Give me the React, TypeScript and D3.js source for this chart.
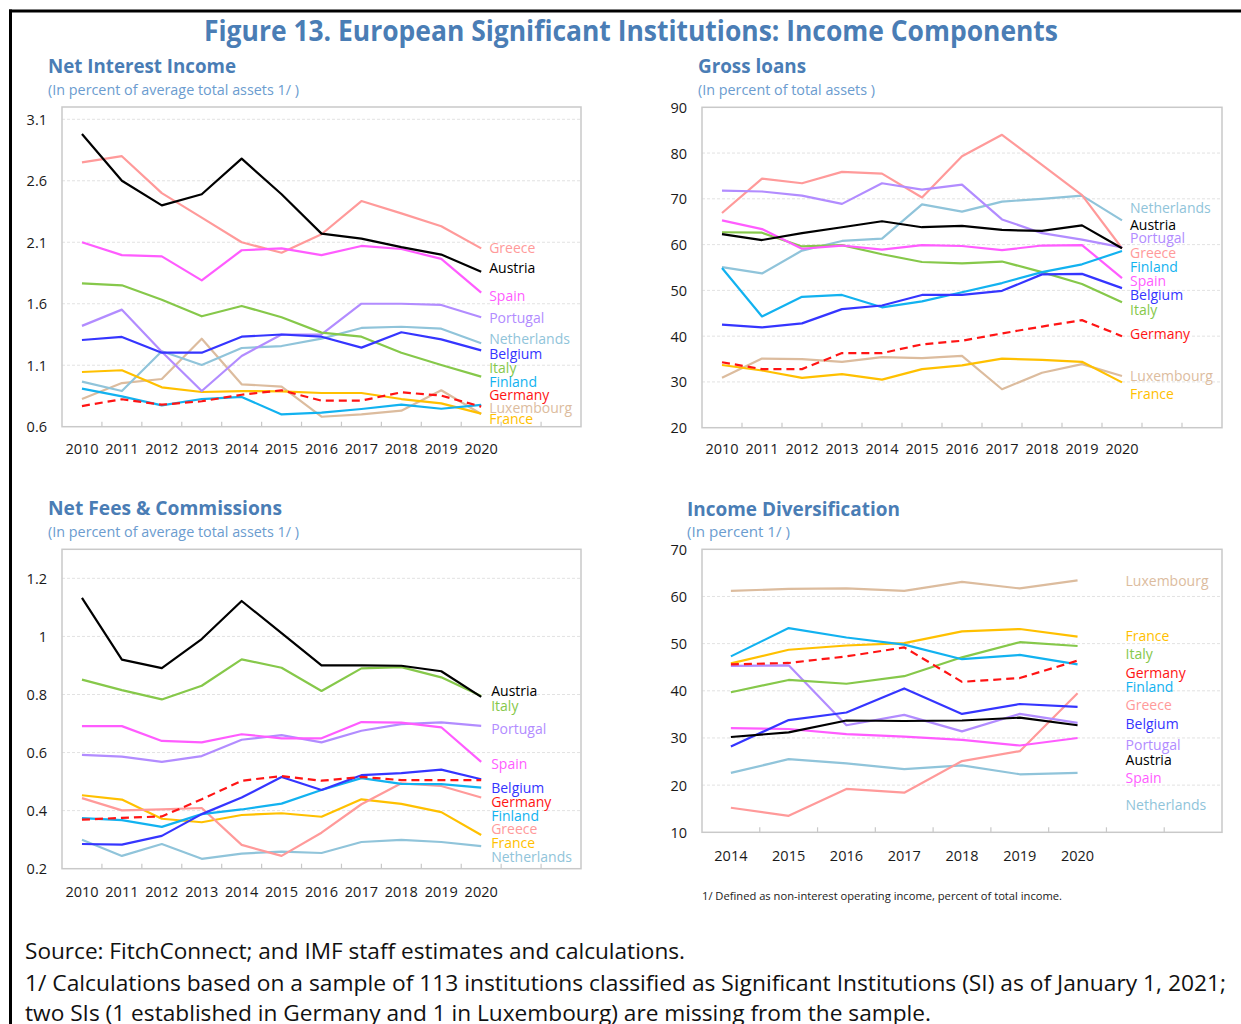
import React from "react";
import * as d3 from "d3";

// ---------------- DATA ----------------
const yearsLong = ["2010", "2011", "2012", "2013", "2014", "2015", "2016", "2017", "2018", "2019", "2020"];
const yearsShort = ["2014", "2015", "2016", "2017", "2018", "2019", "2020"];

const drawOrder = ["Luxembourg", "Netherlands", "France", "Greece", "Portugal", "Italy", "Spain", "Finland", "Belgium", "Austria", "Germany"];

// Net Interest Income (percent of average total assets)
const netInterestIncome: Record<string, number[]> = {
  Austria: [2.98, 2.6, 2.4, 2.49, 2.78, 2.49, 2.17, 2.13, 2.06, 2.0, 1.86],
  Greece: [2.75, 2.8, 2.5, 2.3, 2.1, 2.015, 2.165, 2.435, 2.335, 2.23, 2.05],
  Spain: [2.1, 1.995, 1.985, 1.79, 2.035, 2.05, 1.995, 2.07, 2.045, 1.965, 1.69],
  Italy: [1.765, 1.75, 1.633, 1.498, 1.582, 1.49, 1.365, 1.332, 1.202, 1.102, 1.007],
  Portugal: [1.42, 1.552, 1.21, 0.89, 1.175, 1.35, 1.35, 1.6, 1.6, 1.59, 1.49],
  Netherlands: [0.966, 0.89, 1.213, 1.102, 1.24, 1.256, 1.316, 1.403, 1.413, 1.397, 1.278],
  Belgium: [1.305, 1.33, 1.202, 1.202, 1.332, 1.35, 1.332, 1.243, 1.368, 1.31, 1.221],
  France: [1.045, 1.059, 0.92, 0.882, 0.89, 0.887, 0.874, 0.874, 0.825, 0.79, 0.706],
  Luxembourg: [0.825, 0.955, 0.988, 1.316, 0.945, 0.926, 0.681, 0.7, 0.73, 0.896, 0.703],
  Finland: [0.909, 0.847, 0.774, 0.825, 0.842, 0.7, 0.714, 0.744, 0.779, 0.746, 0.777],
  Germany: [0.768, 0.823, 0.779, 0.807, 0.86, 0.896, 0.812, 0.812, 0.88, 0.853, 0.763],
};

// Gross loans (percent of total assets)
const grossLoans: Record<string, number[]> = {
  Greece: [66.9, 74.4, 73.4, 75.9, 75.5, 70.3, 79.3, 84.0, 77.4, 70.8, 59.2],
  Portugal: [71.8, 71.6, 70.7, 68.9, 73.4, 72.0, 73.1, 65.5, 62.5, 61.1, 59.4],
  Netherlands: [55.1, 53.7, 58.7, 60.8, 61.3, 68.8, 67.2, 69.4, 70.0, 70.7, 65.3],
  Austria: [62.3, 61.0, 62.5, 63.8, 65.1, 63.8, 64.1, 63.2, 63.0, 64.2, 59.2],
  Spain: [65.3, 63.4, 59.1, 59.8, 58.9, 59.9, 59.7, 58.8, 59.8, 59.9, 52.7],
  Italy: [62.7, 62.6, 59.6, 59.9, 57.9, 56.2, 55.9, 56.3, 54.0, 51.4, 47.4],
  Finland: [54.9, 44.3, 48.6, 49.0, 46.3, 47.6, 49.6, 51.6, 54.0, 55.7, 58.6],
  Belgium: [42.5, 41.9, 42.8, 45.9, 46.7, 49.0, 49.0, 49.9, 53.5, 53.6, 50.5],
  Germany: [34.3, 32.8, 32.8, 36.3, 36.3, 38.2, 39.0, 40.6, 42.1, 43.5, 40.0],
  Luxembourg: [30.9, 35.1, 35.0, 34.4, 35.4, 35.2, 35.7, 28.4, 32.0, 33.9, 31.3],
  France: [33.7, 32.5, 30.9, 31.7, 30.5, 32.8, 33.6, 35.1, 34.8, 34.4, 29.9],
};

// Net Fees & Commissions (percent of average total assets)
const netFees: Record<string, number[]> = {
  Austria: [1.133, 0.92, 0.891, 0.991, 1.122, 1.011, 0.9, 0.9, 0.899, 0.88, 0.792],
  Italy: [0.851, 0.815, 0.783, 0.83, 0.921, 0.892, 0.812, 0.89, 0.894, 0.859, 0.795],
  Spain: [0.691, 0.691, 0.64, 0.635, 0.663, 0.649, 0.649, 0.705, 0.703, 0.687, 0.568],
  Portugal: [0.592, 0.586, 0.568, 0.588, 0.644, 0.66, 0.635, 0.675, 0.698, 0.704, 0.692],
  Belgium: [0.285, 0.283, 0.313, 0.388, 0.445, 0.516, 0.471, 0.522, 0.529, 0.541, 0.508],
  Germany: [0.369, 0.375, 0.38, 0.439, 0.503, 0.519, 0.503, 0.516, 0.505, 0.505, 0.505],
  Finland: [0.374, 0.367, 0.344, 0.388, 0.404, 0.424, 0.471, 0.512, 0.492, 0.491, 0.479],
  Greece: [0.443, 0.401, 0.404, 0.409, 0.282, 0.244, 0.324, 0.422, 0.494, 0.485, 0.445],
  France: [0.453, 0.438, 0.372, 0.36, 0.385, 0.391, 0.379, 0.439, 0.423, 0.395, 0.316],
  Netherlands: [0.3, 0.244, 0.285, 0.234, 0.252, 0.259, 0.254, 0.292, 0.299, 0.292, 0.278],
  Luxembourg: [],
};

// Income Diversification (percent)
const incomeDiversification: Record<string, number[]> = {
  Luxembourg: [61.2, 61.6, 61.7, 61.2, 63.1, 61.7, 63.4],
  France: [45.8, 48.7, 49.6, 50.1, 52.6, 53.1, 51.5],
  Finland: [47.3, 53.3, 51.3, 49.8, 46.7, 47.6, 45.6],
  Italy: [39.7, 42.3, 41.5, 43.1, 47.1, 50.3, 49.5],
  Germany: [45.6, 45.9, 47.3, 49.2, 41.9, 42.7, 46.4],
  Portugal: [45.3, 45.4, 32.7, 34.9, 31.4, 35.1, 33.2],
  Belgium: [28.2, 33.8, 35.4, 40.5, 35.1, 37.2, 36.6],
  Austria: [30.2, 31.2, 33.7, 33.6, 33.7, 34.3, 32.7],
  Spain: [32.1, 31.9, 30.8, 30.3, 29.6, 28.4, 30.0],
  Netherlands: [22.6, 25.5, 24.6, 23.4, 24.2, 22.3, 22.6],
  Greece: [15.2, 13.5, 19.2, 18.4, 25.1, 27.2, 39.5],
};

const niiTicks = [0.6, 1.1, 1.6, 2.1, 2.6, 3.1];
const loansTicks = [20, 30, 40, 50, 60, 70, 80, 90];
const feesTicks = [0.2, 0.4, 0.6, 0.8, 1, 1.2];
const divTicks = [10, 20, 30, 40, 50, 60, 70];

// label anchor values (data units) for the end-of-line country labels
const niiLabels: [string, number][] = [
  ["Greece", 2.061], ["Austria", 1.891], ["Spain", 1.663], ["Portugal", 1.492], ["Netherlands", 1.321],
  ["Belgium", 1.199], ["Italy", 1.078], ["Finland", 0.964], ["Germany", 0.858], ["Luxembourg", 0.76], ["France", 0.663],
];
const loansLabels: [string, number][] = [
  ["Netherlands", 68.1], ["Austria", 64.33], ["Portugal", 61.55], ["Greece", 58.27], ["Finland", 55.21],
  ["Spain", 52.15], ["Belgium", 49.02], ["Italy", 45.74], ["Germany", 40.56], ["Luxembourg", 31.31], ["France", 27.37],
];
const feesLabels: [string, number][] = [
  ["Austria", 0.813], ["Italy", 0.763], ["Portugal", 0.682], ["Spain", 0.564], ["Belgium", 0.481],
  ["Germany", 0.43], ["Finland", 0.383], ["Greece", 0.338], ["France", 0.29], ["Netherlands", 0.243],
];
const divLabels: [string, number][] = [
  ["Luxembourg", 63.42], ["France", 51.83], ["Italy", 47.95], ["Germany", 43.98], ["Finland", 40.87],
  ["Greece", 37.2], ["Belgium", 33.17], ["Portugal", 28.57], ["Austria", 25.54], ["Spain", 21.66], ["Netherlands", 16.0],
];

// ---------------- STYLE ----------------
const colors: Record<string, string> = {
  Austria: "#000000",
  Greece: "#ff9a9a",
  Spain: "#ff5cff",
  Portugal: "#b28cff",
  Netherlands: "#90c4da",
  Belgium: "#3535ff",
  Italy: "#86c84a",
  Finland: "#12b2f0",
  Germany: "#ff1414",
  Luxembourg: "#dcbc9e",
  France: "#ffc000",
};

const FONT = "'Open Sans', 'Noto Sans', sans-serif";
const TITLE_BLUE = "#4a7db5";
const SUB_BLUE = "#6b9ccf";

type PanelProps = {
  x0: number; x1: number; y0: number; y1: number;
  domain: [number, number];
  ticks: number[];
  tickFmt: (v: number) => string;
  years: string[];
  nBands: number;
  series: Record<string, number[]>;
  labels: [string, number][];
  labelDx: number;
  xLabelY: number;
};

function Panel(p: PanelProps) {
  const slots = [...p.years];
  for (let i = p.years.length; i < p.nBands; i++) slots.push("pad" + i);
  const x = d3.scaleBand<string>().domain(slots).range([p.x0, p.x1]).paddingInner(0).paddingOuter(0);
  const y = d3.scaleLinear().domain(p.domain).range([p.y1, p.y0]);
  const bw = x.bandwidth();
  const cx = (yr: string) => (x(yr) as number) + bw / 2;
  const line = d3
    .line<number>()
    .x((_, i) => cx(p.years[i]))
    .y((d) => y(d));
  const lastX = cx(p.years[p.years.length - 1]);
  return (
    <g>
      {/* gridlines */}
      {p.ticks
        .filter((t) => t !== p.domain[0] && t !== p.domain[1])
        .map((t) => (
          <line key={"g" + t} x1={p.x0} x2={p.x1} y1={y(t)} y2={y(t)} stroke="#e2e2e2" strokeWidth={1} strokeDasharray="3,2" />
        ))}
      {/* box */}
      <rect x={p.x0} y={p.y0} width={p.x1 - p.x0} height={p.y1 - p.y0} fill="none" stroke="#c9c9c9" strokeWidth={1.5} />
      {/* x tick marks between bands */}
      {slots.slice(1).map((s) => (
        <line key={"t" + s} x1={x(s) as number} x2={x(s) as number} y1={p.y1} y2={p.y1 - 5} stroke="#c9c9c9" strokeWidth={1.2} />
      ))}
      {/* y tick labels */}
      {p.ticks.map((t) => (
        <text key={"yl" + t} x={p.x0 - 15} y={y(t)} textAnchor="end" dominantBaseline="central" fontFamily={FONT} fontSize={14.5} fill="#1a1a1a">
          {p.tickFmt(t)}
        </text>
      ))}
      {/* x labels */}
      {p.years.map((yr) => (
        <text key={"xl" + yr} x={cx(yr)} y={p.xLabelY} textAnchor="middle" dominantBaseline="central" fontFamily={FONT} fontSize={14.5} fill="#1a1a1a">
          {yr}
        </text>
      ))}
      {/* lines */}
      {drawOrder
        .filter((c) => p.series[c] && p.series[c].length)
        .map((c) => (
          <path
            key={"l" + c}
            d={line(p.series[c]) || ""}
            fill="none"
            stroke={colors[c]}
            strokeWidth={2.2}
            strokeLinejoin="round"
            strokeDasharray={c === "Germany" ? "8,5" : undefined}
          />
        ))}
      {/* labels */}
      {p.labels.map(([c, v]) => (
        <text key={"lab" + c} x={lastX + p.labelDx} y={y(v)} dominantBaseline="central" fontFamily={FONT} fontSize={14} fill={colors[c]}>
          {c}
        </text>
      ))}
    </g>
  );
}

export default function App() {
  const W = 1241;
  const H = 1024;
  return (
    <svg width={W} height={H} viewBox={`0 0 ${W} ${H}`} style={{ position: "absolute", left: 0, top: 0, display: "block", background: "#fff" }}>
      <rect x={0} y={0} width={W} height={H} fill="#fff" />
      {/* frame */}
      <line x1={9} x2={W} y1={11} y2={11} stroke="#000" strokeWidth={3} />
      <line x1={10.5} x2={10.5} y1={9.5} y2={H} stroke="#000" strokeWidth={3} />

      <text x={631} y={41} textAnchor="middle" fontFamily={FONT} fontWeight={700} fontSize={28} fill={TITLE_BLUE} textLength={854} lengthAdjust="spacingAndGlyphs">
        Figure 13. European Significant Institutions: Income Components
      </text>

      {/* panel titles */}
      <text x={48} y={73} fontFamily={FONT} fontWeight={700} fontSize={19.5} fill={TITLE_BLUE} textLength={188} lengthAdjust="spacingAndGlyphs">Net Interest Income</text>
      <text x={48} y={95} fontFamily={FONT} fontSize={14.5} fill={SUB_BLUE} textLength={251} lengthAdjust="spacingAndGlyphs">(In percent of average total assets 1/ )</text>

      <text x={698} y={73} fontFamily={FONT} fontWeight={700} fontSize={19.5} fill={TITLE_BLUE} textLength={108} lengthAdjust="spacingAndGlyphs">Gross loans</text>
      <text x={698} y={95} fontFamily={FONT} fontSize={14.5} fill={SUB_BLUE} textLength={177} lengthAdjust="spacingAndGlyphs">(In percent of total assets )</text>

      <text x={48} y={515} fontFamily={FONT} fontWeight={700} fontSize={19.5} fill={TITLE_BLUE} textLength={234} lengthAdjust="spacingAndGlyphs">Net Fees &amp; Commissions</text>
      <text x={48} y={537} fontFamily={FONT} fontSize={14.5} fill={SUB_BLUE} textLength={251} lengthAdjust="spacingAndGlyphs">(In percent of average total assets 1/ )</text>

      <text x={687} y={516} fontFamily={FONT} fontWeight={700} fontSize={19.5} fill={TITLE_BLUE} textLength={213} lengthAdjust="spacingAndGlyphs">Income Diversification</text>
      <text x={687} y={537} fontFamily={FONT} fontSize={14.5} fill={SUB_BLUE} textLength={103} lengthAdjust="spacingAndGlyphs">(In percent  1/ )</text>

      <Panel x0={62} x1={581} y0={107} y1={426.7} domain={[0.6, 3.2]} ticks={niiTicks} tickFmt={(v) => d3.format(".1f")(v)}
        years={yearsLong} nBands={13} series={netInterestIncome} labels={niiLabels} labelDx={8} xLabelY={448} />

      <Panel x0={702} x1={1222} y0={107.3} y1={427.7} domain={[20, 90]} ticks={loansTicks} tickFmt={(v) => String(v)}
        years={yearsLong} nBands={13} series={grossLoans} labels={loansLabels} labelDx={8} xLabelY={448} />

      <Panel x0={62} x1={581} y0={549.3} y1={868.7} domain={[0.2, 1.3]} ticks={feesTicks} tickFmt={(v) => String(v)}
        years={yearsLong} nBands={13} series={netFees} labels={feesLabels} labelDx={10} xLabelY={891} />

      <Panel x0={702} x1={1222} y0={549.3} y1={832.3} domain={[10, 70]} ticks={divTicks} tickFmt={(v) => String(v)}
        years={yearsShort} nBands={9} series={incomeDiversification} labels={divLabels} labelDx={48} xLabelY={855} />

      <text x={702} y={900} fontFamily={FONT} fontSize={11} fill="#1a1a1a" textLength={360} lengthAdjust="spacingAndGlyphs">
        1/ Defined as non-interest operating income, percent of total income.
      </text>

      <text x={25} y={959} fontFamily={FONT} fontSize={22} fill="#111" textLength={660} lengthAdjust="spacingAndGlyphs">
        Source: FitchConnect; and IMF staff estimates and calculations.
      </text>
      <text x={25} y={991} fontFamily={FONT} fontSize={22} fill="#111" textLength={1201} lengthAdjust="spacingAndGlyphs">
        1/ Calculations based on a sample of 113 institutions classified as Significant Institutions (SI) as of January 1, 2021;
      </text>
      <text x={25} y={1021} fontFamily={FONT} fontSize={22} fill="#111" textLength={906} lengthAdjust="spacingAndGlyphs">
        two SIs (1 established in Germany and 1 in Luxembourg) are missing from the sample.
      </text>
    </svg>
  );
}
